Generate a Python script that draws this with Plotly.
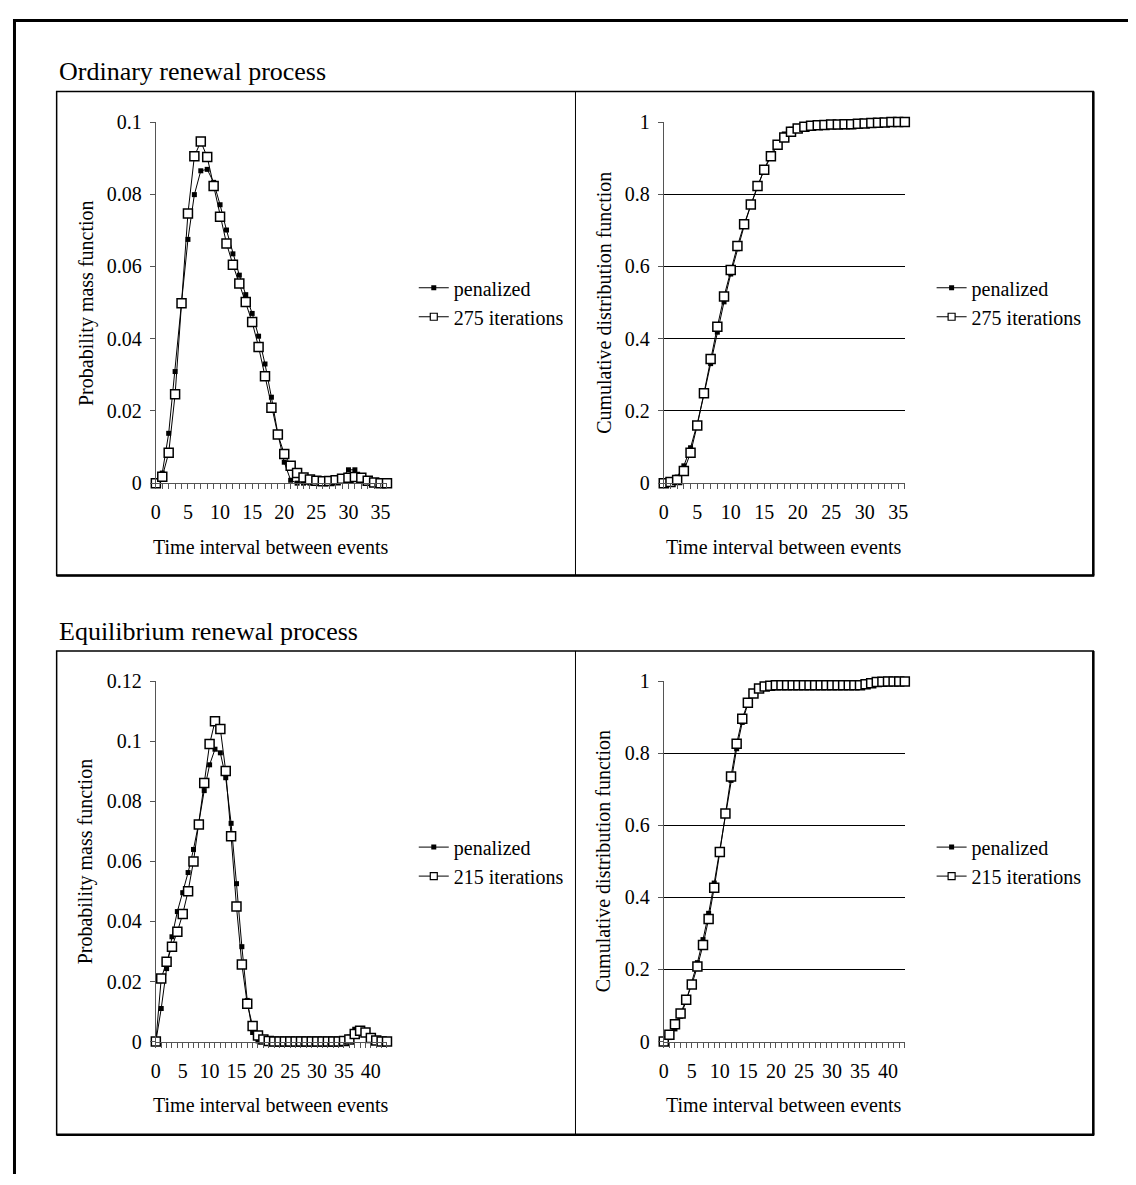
import plotly.graph_objects as go

# ---------------- data ----------------
x_ord = list(range(37))
x_eq = list(range(44))

pen_ord_pmf = [0, 0.0028, 0.0138, 0.0309, 0.0500, 0.0675, 0.0799, 0.0865, 0.0869, 0.0833,
               0.0771, 0.0701, 0.0635, 0.0576, 0.0522, 0.0470, 0.0407, 0.0330, 0.0238, 0.0137,
               0.0058, 0.0008, 0.0000, 0.0000, 0.0000, 0.0000, 0.0000, 0.0000, 0.0003, 0.0015,
               0.0037, 0.0037, 0.0015, 0.0003, 0.0000, 0.0000, 0.0000]
iter_ord_pmf = [0, 0.0018, 0.0084, 0.0246, 0.0498, 0.0747, 0.0905, 0.0946, 0.0903, 0.0823,
                0.0738, 0.0664, 0.0605, 0.0553, 0.0502, 0.0446, 0.0377, 0.0296, 0.0209, 0.0135,
                0.0081, 0.0048, 0.0028, 0.0016, 0.0010, 0.0007, 0.0005, 0.0006, 0.0008, 0.0012,
                0.0015, 0.0017, 0.0015, 0.0007, 0.0002, 0.0000, 0.0000]

pen_ord_cdf = [0, 0.003, 0.017, 0.048, 0.098, 0.165, 0.245, 0.331, 0.418, 0.502,
               0.579, 0.649, 0.712, 0.770, 0.822, 0.869, 0.910, 0.943, 0.967, 0.980,
               0.986, 0.987, 0.987, 0.987, 0.987, 0.987, 0.987, 0.987, 0.987, 0.989,
               0.993, 0.996, 0.998, 0.999, 1.000, 1.000, 1.000]
iter_ord_cdf = [0, 0.003, 0.009, 0.034, 0.084, 0.160, 0.249, 0.344, 0.433, 0.517,
                0.590, 0.657, 0.717, 0.772, 0.823, 0.868, 0.905, 0.937, 0.957, 0.973,
                0.982, 0.987, 0.990, 0.991, 0.992, 0.993, 0.993, 0.994, 0.994, 0.995,
                0.996, 0.997, 0.998, 0.999, 1.000, 1.000, 1.000]

pen_eq_pmf = [0, 0.0110, 0.0243, 0.0349, 0.0433, 0.0496, 0.0563, 0.0640, 0.0730, 0.0836,
              0.0922, 0.0974, 0.0962, 0.0879, 0.0727, 0.0526, 0.0316, 0.0137, 0.0030, 0.0002,
              0, 0, 0, 0, 0, 0, 0, 0, 0, 0,
              0, 0, 0, 0, 0, 0.0003, 0.0015, 0.0041, 0.0040, 0.0025,
              0.0010, 0.0002, 0, 0]
iter_eq_pmf = [0, 0.0210, 0.0266, 0.0316, 0.0366, 0.0425, 0.0501, 0.0600, 0.0723, 0.0861,
               0.0991, 0.1067, 0.1041, 0.0901, 0.0684, 0.0450, 0.0257, 0.0126, 0.0052, 0.0020,
               0.0007, 0.0002, 0, 0, 0, 0, 0, 0, 0, 0,
               0, 0, 0, 0, 0, 0.0002, 0.0007, 0.0025, 0.0036, 0.0030,
               0.0012, 0.0003, 0, 0]

pen_eq_cdf = [0, 0.011, 0.035, 0.070, 0.113, 0.163, 0.219, 0.283, 0.356, 0.440,
              0.532, 0.629, 0.725, 0.813, 0.886, 0.938, 0.970, 0.984, 0.987, 0.987,
              0.987, 0.987, 0.987, 0.987, 0.987, 0.987, 0.987, 0.987, 0.987, 0.987,
              0.987, 0.987, 0.987, 0.987, 0.987, 0.987, 0.989, 0.993, 0.997, 0.999,
              1.000, 1.000, 1.000, 1.000]
iter_eq_cdf = [0, 0.019, 0.048, 0.078, 0.116, 0.158, 0.208, 0.268, 0.340, 0.427,
               0.526, 0.633, 0.736, 0.827, 0.896, 0.941, 0.966, 0.980, 0.986, 0.988,
               0.989, 0.989, 0.989, 0.989, 0.989, 0.989, 0.989, 0.989, 0.989, 0.989,
               0.989, 0.989, 0.989, 0.989, 0.989, 0.989, 0.992, 0.995, 0.998, 0.999,
               1.000, 1.000, 1.000, 1.000]

series_pen = "penalized"
series_iter_ord = "275 iterations"
series_iter_eq = "215 iterations"
title_ord = "Ordinary renewal process"
title_eq = "Equilibrium renewal process"
xlab = "Time interval between events"
ylab_pmf = "Probability mass function"
ylab_cdf = "Cumulative distribution function"

# ---------------- layout helpers ----------------
# the page body has an 8px margin; the figure is sized so that it fits the window exactly
OFF = 8
W, H = 1136 - OFF, 1185 - OFF
FONT = "Liberation Serif, Times New Roman, serif"
AX = "#555555"


def fx(p):
    return (p - OFF) / W


def fy(p):
    return 1 - (p - OFF) / H


fig = go.Figure()

panels = [
    dict(n="", x=x_ord, pen=pen_ord_pmf, it=iter_ord_pmf, name=series_iter_ord, legend="legend"),
    dict(n="2", x=x_ord, pen=pen_ord_cdf, it=iter_ord_cdf, name=series_iter_ord, legend="legend2"),
    dict(n="3", x=x_eq, pen=pen_eq_pmf, it=iter_eq_pmf, name=series_iter_eq, legend="legend3"),
    dict(n="4", x=x_eq, pen=pen_eq_cdf, it=iter_eq_cdf, name=series_iter_eq, legend="legend4"),
]

for p in panels:
    xa, ya = "x" + p["n"], "y" + p["n"]
    fig.add_trace(go.Scatter(
        x=p["x"], y=p["pen"], xaxis=xa, yaxis=ya, mode="lines+markers",
        line=dict(color="black", width=1),
        marker=dict(symbol="square", size=5, color="black"),
        showlegend=False, cliponaxis=False))
    fig.add_trace(go.Scatter(
        x=p["x"], y=p["it"], xaxis=xa, yaxis=ya, mode="lines+markers",
        line=dict(color="black", width=1),
        marker=dict(symbol="square", size=9, color="white", line=dict(color="black", width=1.5)),
        showlegend=False, cliponaxis=False))
    # legend entries (smaller markers, like the original legend)
    fig.add_trace(go.Scatter(
        x=[None], y=[None], xaxis=xa, yaxis=ya, mode="lines+markers", name=series_pen,
        line=dict(color="black", width=1),
        marker=dict(symbol="square", size=5, color="black"),
        legend=p["legend"], legendgroup=p["legend"] + "a"))
    fig.add_trace(go.Scatter(
        x=[None], y=[None], xaxis=xa, yaxis=ya, mode="lines+markers", name=p["name"],
        line=dict(color="black", width=1),
        marker=dict(symbol="square", size=7, color="white", line=dict(color="black", width=1.2)),
        legend=p["legend"], legendgroup=p["legend"] + "b"))

tickfont = dict(family=FONT, size=20, color="black")


def xaxis(left, right, rng, anchor):
    return dict(domain=[fx(left), fx(right)], range=rng, anchor=anchor,
                showline=True, linecolor=AX, linewidth=1, zeroline=False, showgrid=False,
                ticks="outside", ticklen=5, tickcolor=AX, tickwidth=1,
                tick0=0, dtick=5, tickfont=tickfont, ticklabelstandoff=6,
                minor=dict(dtick=1, tick0=0, ticks="outside", ticklen=5, tickcolor=AX, showgrid=False))


def yaxis(top, bottom, rng, dtick, anchor, grid):
    return dict(domain=[fy(bottom), fy(top)], range=rng, anchor=anchor,
                showline=True, linecolor=AX, linewidth=1, zeroline=False,
                showgrid=grid, gridcolor="black", gridwidth=1,
                ticks="outside", ticklen=5, tickcolor=AX, tickwidth=1,
                tick0=0, dtick=dtick, tickfont=tickfont, ticklabelstandoff=4)


legend_common = dict(font=dict(family=FONT, size=20, color="black"), bgcolor="rgba(0,0,0,0)",
                     borderwidth=0, traceorder="grouped", tracegroupgap=0,
                     xanchor="left", yanchor="top", itemclick=False)

fig.update_layout(
    width=W, height=H, margin=dict(l=0, r=0, t=0, b=0),
    paper_bgcolor="white", plot_bgcolor="white",
    font=dict(family=FONT, size=20, color="black"),
    xaxis=xaxis(152, 385, [0, 36], "y"),
    yaxis=yaxis(113, 481, [0, 0.1], 0.02, "x", False),
    xaxis2=xaxis(664, 907, [0, 36], "y2"),
    yaxis2=yaxis(113, 481, [0, 1], 0.2, "x2", True),
    xaxis3=xaxis(152, 385, [0, 43], "y3"),
    yaxis3=yaxis(683, 1050, [0, 0.12], 0.02, "x3", False),
    xaxis4=xaxis(664, 907, [0, 43], "y4"),
    yaxis4=yaxis(683, 1050, [0, 1], 0.2, "x4", True),
    legend=dict(legend_common, x=fx(412), y=fy(262)),
    legend2=dict(legend_common, x=fx(934), y=fy(262)),
    legend3=dict(legend_common, x=fx(412), y=fy(832)),
    legend4=dict(legend_common, x=fx(934), y=fy(832)),
)

shapes = []
# outer frame (top and left edges), as close to the window edge as the page allows
shapes.append(dict(type="line", xref="paper", yref="paper", x0=0, x1=1, y0=fy(OFF + 1.5), y1=fy(OFF + 1.5),
                   line=dict(color="black", width=3)))
shapes.append(dict(type="line", xref="paper", yref="paper", x0=fx(OFF + 1.5), x1=fx(OFF + 1.5), y0=0, y1=1,
                   line=dict(color="black", width=3)))
for top, bot in [(82, 575), (652, 1145)]:
    shapes.append(dict(type="rect", xref="paper", yref="paper", x0=fx(52), x1=fx(1097), y0=fy(bot), y1=fy(top),
                       line=dict(color="black", width=1.5)))
    shapes.append(dict(type="line", xref="paper", yref="paper", x0=fx(1097), x1=fx(1097), y0=fy(bot), y1=fy(top),
                       line=dict(color="black", width=2.5)))
    shapes.append(dict(type="line", xref="paper", yref="paper", x0=fx(52), x1=fx(1098), y0=fy(bot), y1=fy(bot),
                       line=dict(color="black", width=2.5)))
    shapes.append(dict(type="line", xref="paper", yref="paper", x0=fx(575), x1=fx(575), y0=fy(bot), y1=fy(top),
                       line=dict(color="black", width=1)))
fig.update_layout(shapes=shapes)

ann = []
tfont = dict(family=FONT, size=26, color="black")
lfont = dict(family=FONT, size=20, color="black")
ann.append(dict(text=title_ord, x=fx(52), y=fy(61), xref="paper", yref="paper", showarrow=False,
                xanchor="left", yanchor="middle", font=tfont))
ann.append(dict(text=title_eq, x=fx(52), y=fy(632), xref="paper", yref="paper", showarrow=False,
                xanchor="left", yanchor="middle", font=tfont))
for cx, cy, txt in [(82, 297, ylab_pmf), (603, 297, ylab_cdf), (82, 866, ylab_pmf), (603, 866, ylab_cdf)]:
    ann.append(dict(text=txt, x=fx(cx), y=fy(cy), xref="paper", yref="paper", showarrow=False,
                    textangle=-90, xanchor="center", yanchor="middle", font=lfont))
for cx, cy in [(268, 546), (785, 546), (268, 1115), (785, 1115)]:
    ann.append(dict(text=xlab, x=fx(cx), y=fy(cy), xref="paper", yref="paper", showarrow=False,
                    xanchor="center", yanchor="middle", font=lfont))
fig.update_layout(annotations=ann)

fig.write_html("out.html")
